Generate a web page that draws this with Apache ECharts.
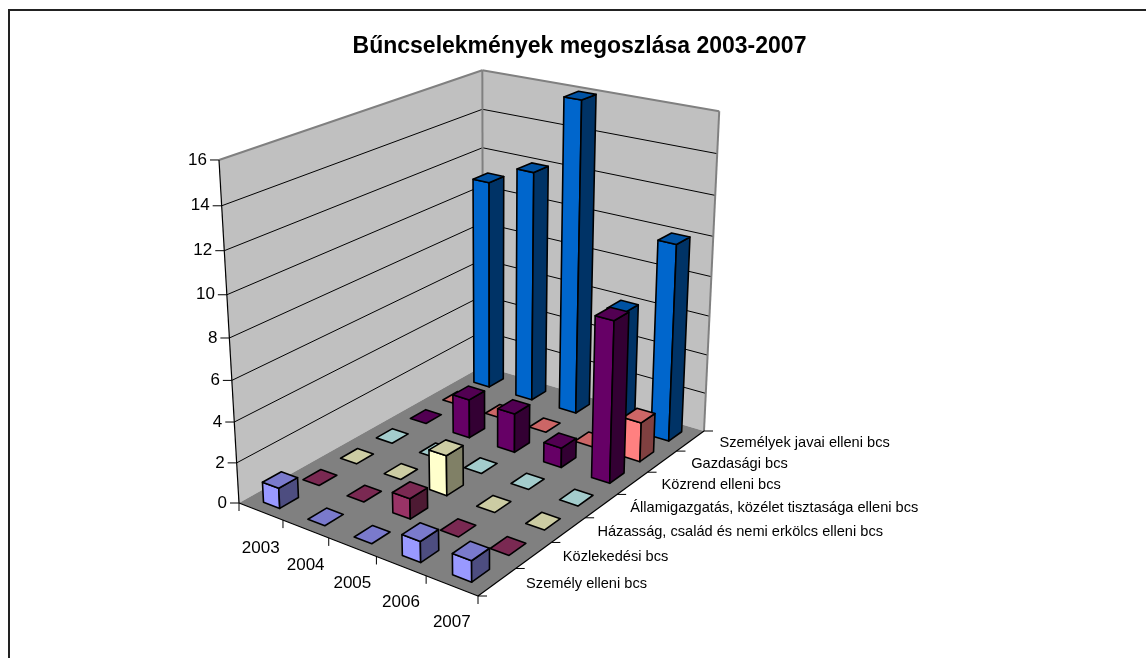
<!DOCTYPE html>
<html>
<head>
<meta charset="utf-8">
<style>
  html, body { margin: 0; padding: 0; background: #fff; }
  #myChart { width: 1146px; height: 658px; }
</style>
<script src="https://cdn.jsdelivr.net/npm/echarts@6/dist/echarts.min.js"></script>
</head>
<body>
<div id="myChart"></div>
<script>
const titleText = "Bűncselekmények megoszlása 2003-2007";
const years = ["2003", "2004", "2005", "2006", "2007"];
const categories = [
  "Személy elleni bcs",
  "Közlekedési bcs",
  "Házasság, család és nemi erkölcs elleni bcs",
  "Államigazgatás, közélet tisztasága elleni bcs",
  "Közrend elleni bcs",
  "Gazdasági bcs",
  "Személyek javai elleni bcs"
];
const valueTicks = [0, 2, 4, 6, 8, 10, 12, 14, 16];

const szemelyElleni = [1, 0, 0, 1, 1];
const kozlekedesi = [0, 0, 1, 0, 0];
const hazassag = [0, 0, 2, 0, 0];
const allamigazgatas = [0, 0, 0, 0, 0];
const kozrend = [0, 2, 2, 1, 8];
const gazdasagi = [0, 0, 0, 0, 2];
const szemelyekJavai = [11, 12, 16, 6, 10];

const seriesValues = [szemelyElleni, kozlekedesi, hazassag, allamigazgatas, kozrend, gazdasagi, szemelyekJavai];
// front, side, top
const seriesColors = [
  ["#9999FF", "#4D4D80", "#7A7ACC"],
  ["#993366", "#4D1A33", "#7A2952"],
  ["#FFFFCC", "#808066", "#CCCCA3"],
  ["#CCFFFF", "#668080", "#A3CCCC"],
  ["#660066", "#330033", "#520052"],
  ["#FF8080", "#804040", "#CC6666"],
  ["#0066CC", "#003366", "#0052A3"]
];

// perspective of the box: floor corners and the height terms, u = years, v = categories, h = 0..1
const floorL = [239, 503], floorF = [478, 596], floorR = [704, 431], floorB = [483, 366];
const hx = -36, hy = -354.7, hw = -0.073;
const barU = 0.037, barV = 0.0335;

const sx = floorL[0] - floorF[0] + floorR[0] - floorB[0];
const sy = floorL[1] - floorF[1] + floorR[1] - floorB[1];
const dx1 = floorF[0] - floorR[0], dx2 = floorB[0] - floorR[0];
const dy1 = floorF[1] - floorR[1], dy2 = floorB[1] - floorR[1];
const det = dx1 * dy2 - dx2 * dy1;
const gu = (sx * dy2 - dx2 * sy) / det;
const gv = (dx1 * sy - sx * dy1) / det;

function project(u, v, h) {
  const a = floorF[0] - floorL[0] + gu * floorF[0];
  const b = floorB[0] - floorL[0] + gv * floorB[0];
  const d = floorF[1] - floorL[1] + gu * floorF[1];
  const e = floorB[1] - floorL[1] + gv * floorB[1];
  const w = gu * u + gv * v + 1 + hw * h;
  return [
    (a * u + b * v + floorL[0] + hx * h) / w,
    (d * u + e * v + floorL[1] + hy * h) / w
  ];
}

function poly(points, fill, stroke, lineWidth) {
  return {
    type: "polygon",
    shape: { points: points },
    style: { fill: fill, stroke: stroke, lineWidth: lineWidth, lineJoin: "round" }
  };
}
function line(p1, p2, stroke, lineWidth) {
  return {
    type: "line",
    shape: { x1: p1[0], y1: p1[1], x2: p2[0], y2: p2[1] },
    style: { stroke: stroke, lineWidth: lineWidth }
  };
}
function label(text, x, y, size, align) {
  return {
    type: "text",
    style: { text: text, x: x, y: y, fill: "#000", align: align, verticalAlign: "middle",
      font: size + 'px "Liberation Sans", Arial, sans-serif' }
  };
}

// the box: walls, floor, gridlines, ticks and axis labels
function renderFrame(params, api) {
  const H = api.getHeight();
  const hOf = function (t) { return (H - api.coord([0, t])[1]) / H; };
  const out = [];
  out.push(poly([project(0, 0, 0), project(0, 1, 0), project(0, 1, 1), project(0, 0, 1)], "#C0C0C0", "none", 0));
  out.push(poly([project(0, 1, 0), project(1, 1, 0), project(1, 1, 1), project(0, 1, 1)], "#C0C0C0", "none", 0));
  out.push(poly([project(0, 0, 0), project(1, 0, 0), project(1, 1, 0), project(0, 1, 0)], "#808080", "none", 0));
  valueTicks.forEach(function (t) {
    const h = hOf(t);
    const p = project(0, 0, h);
    if (t > 0 && t < 16) {
      out.push(line(p, project(0, 1, h), "#000", 1));
      out.push(line(project(0, 1, h), project(1, 1, h), "#000", 1));
    }
    out.push(line([p[0] - 9, p[1]], p, "#000", 1));
    out.push(label(String(t), p[0] - 12, p[1], 17, "right"));
  });
  // grey outline of the walls
  out.push(line(project(0, 0, 1), project(0, 1, 1), "#808080", 2));
  out.push(line(project(0, 1, 1), project(1, 1, 1), "#808080", 2));
  out.push(line(project(0, 1, 0), project(0, 1, 1), "#808080", 2));
  out.push(line(project(1, 1, 0), project(1, 1, 1), "#808080", 2));
  // axis lines
  out.push(line(project(0, 0, 0), project(0, 0, 1), "#000", 1.2));
  out.push(line(project(0, 0, 0), project(1, 0, 0), "#000", 1.2));
  out.push(line(project(1, 0, 0), project(1, 1, 0), "#000", 1.2));
  years.forEach(function (y, i) {
    const t = project((i + 1) / years.length, 0, 0);
    out.push(line(t, [t[0], t[1] + 8], "#000", 1));
    const m = project((i + 0.5) / years.length, 0, 0);
    out.push(label(y, m[0], m[1] + 36.5, 17, "center"));
  });
  const p0 = project(0, 0, 0);
  out.push(line(p0, [p0[0], p0[1] + 8], "#000", 1));
  categories.forEach(function (c, j) {
    const t = project(1, j / categories.length, 0);
    out.push(line(t, [t[0] + 9, t[1]], "#000", 1));
    const m = project(1, (j + 0.5) / categories.length, 0);
    out.push(label(c, m[0] + 29, m[1] + 2, 14.6, "left"));
  });
  const pr = project(1, 1, 0);
  out.push(line(pr, [pr[0] + 9, pr[1]], "#000", 1));
  return { type: "group", children: out };
}

function renderBar(params, api) {
  const W = api.getWidth(), H = api.getHeight();
  const c = api.coord([api.value(0), api.value(2)]);
  const u = c[0] / W;
  const h = (H - c[1]) / H;
  const j = api.value(1);
  const v = (j + 0.5) / categories.length;
  const col = seriesColors[j];
  const u0 = u - barU, u1 = u + barU, v0 = v - barV, v1 = v + barV;
  const lw = 1.6;
  const out = [];
  if (h > 0) {
    out.push(poly([project(u0, v0, 0), project(u1, v0, 0), project(u1, v0, h), project(u0, v0, h)], col[0], "#000", lw));
    out.push(poly([project(u1, v0, 0), project(u1, v1, 0), project(u1, v1, h), project(u1, v0, h)], col[1], "#000", lw));
  }
  out.push(poly([project(u0, v0, h), project(u1, v0, h), project(u1, v1, h), project(u0, v1, h)], col[2], "#000", lw));
  return { type: "group", children: out };
}

const barSeries = [];
// back row first so nearer bars cover it
for (let j = categories.length - 1; j >= 0; j--) {
  barSeries.push({
    name: categories[j],
    type: "custom",
    renderItem: renderBar,
    encode: { x: 0, y: 2 },
    silent: true,
    z: 2,
    data: seriesValues[j].map(function (val, i) { return [i, j, val]; })
  });
}

const myChart = echarts.init(document.getElementById("myChart"));
myChart.setOption({
  animation: false,
  backgroundColor: "#fff",
  title: {
    text: titleText,
    left: 574.5,
    top: 30,
    textAlign: "center",
    textStyle: { fontFamily: '"Liberation Sans", Arial, sans-serif', fontSize: 23, fontWeight: "bold", color: "#000" }
  },
  grid: { left: 0, right: 0, top: 0, bottom: 0 },
  xAxis: { type: "category", data: years, show: false },
  yAxis: { type: "value", min: 0, max: 16, interval: 2, show: false },
  graphic: [{
    // only the top and left of the chart's border are inside the picture
    type: "polyline",
    shape: { points: [[9, 670], [9, 10], [1160, 10]] },
    style: { fill: "none", stroke: "#222", lineWidth: 2 },
    z: 0
  }],
  series: [{
    type: "custom",
    renderItem: renderFrame,
    encode: { x: 0, y: 1 },
    silent: true,
    z: 1,
    data: [[0, 0]]
  }].concat(barSeries)
});
</script>
</body>
</html>
